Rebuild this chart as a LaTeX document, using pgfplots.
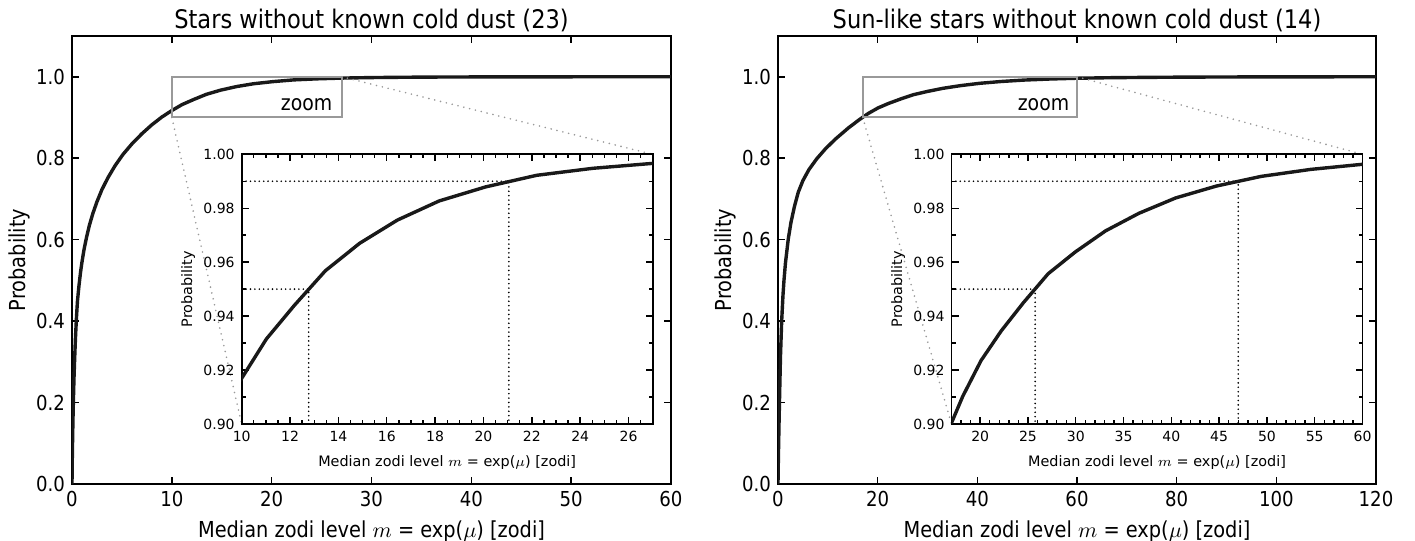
\documentclass[border=0pt]{standalone}
\usepackage{fontspec}
\setmainfont{DejaVu Sans}[FakeStretch=0.88]
\newfontfamily\insetfont{DejaVu Sans}
\usepackage{pgfplots}
\pgfplotsset{compat=1.18}
\usepackage{pgfplotstable}

\pgfplotstableread{
m P
0 0
0.01 0.025
0.025 0.055
0.05 0.095
0.09 0.15
0.14 0.205
0.2 0.26
0.27 0.31
0.35 0.36
0.45 0.41
0.55 0.45
0.7 0.487
0.85 0.519
1.0 0.545
1.2 0.575
1.45 0.605
1.75 0.636
2.1 0.665
2.5 0.693
3.0 0.723
3.6 0.752
4.3 0.781
5.1 0.809
6.0 0.835
7.0 0.860
8.0 0.882
9.0 0.901
9.97 0.9165
11.02 0.9315
12.18 0.9440
13.46 0.9568
14.88 0.9670
16.44 0.9756
18.17 0.9827
20.09 0.9879
22.20 0.9922
24.53 0.9948
27.11 0.9967
29.96 0.9979
33.12 0.9987
36.60 0.9992
40.45 0.9995
44.70 0.9997
49.40 0.9998
54.60 0.9999
60.34 1.0000
}\dataL

\pgfplotstableread{
m P
0 0
0.02 0.022
0.05 0.045
0.1 0.08
0.2 0.145
0.33 0.222
0.5 0.3145
0.74 0.4008
1.0 0.4636
1.2 0.50
1.5 0.5431
2.07 0.6023
2.6 0.642
3.3 0.6815
4.08 0.717
5.0 0.745
6.2 0.7718
7.76 0.7983
9.5 0.8227
11.5 0.8467
14.1 0.874
16.44 0.8957
18.17 0.9102
20.09 0.9235
22.20 0.9345
24.53 0.9450
27.11 0.9557
29.96 0.9638
33.12 0.9716
36.60 0.9781
40.45 0.9838
44.70 0.9882
49.40 0.9918
54.60 0.9944
60.34 0.9964
66.69 0.9976
73.70 0.9984
81.45 0.9990
90.02 0.9994
99.48 0.9996
109.95 0.9998
121.51 0.9999
}\dataR

\tikzset{
  refline/.style={black, line width=0.9pt, line cap=round, dash pattern=on 0pt off 2.2pt},
  conn/.style={black!40, line width=0.9pt, line cap=round, dash pattern=on 0pt off 3pt},
}

\pgfplotsset{
  mainax/.style={
    scale only axis, width=299.5pt, height=224pt,
    xmin=0, ymin=0, ymax=1.1,
    ytick={0,0.2,0.4,0.6,0.8,1.0},
    tick align=inside, major tick length=3.4pt,
    axis line style={line width=0.9pt},
    every tick/.style={black, line width=0.8pt},
    yticklabel style={/pgf/number format/.cd, fixed, fixed zerofill, precision=1},
    /pgf/number format/assume math mode=true,
    tick label style={font=\fontsize{10.3}{12}\selectfont},
    label style={font=\fontsize{11}{13}\selectfont},
    every axis title shift=0pt,
    title style={font=\fontsize{12.8}{15}\selectfont, at={(0.5,1)}, anchor=base, yshift=3.5pt},
    xlabel={Median zodi level $m$ = exp($\mu$) [zodi]},
    ylabel={Probability},
    ylabel style={at={(axis description cs:-0.0885,0.5)}, anchor=center},
    clip=true,
  },
  insetax/.style={
    scale only axis, width=205.5pt, height=134.85pt,
    ymin=0.9, ymax=1.0,
    ytick={0.90,0.92,0.94,0.96,0.98,1.00},
    minor ytick={0.91,0.93,0.95,0.97,0.99},
    tick align=inside, major tick length=3.5pt, minor tick length=2pt,
    axis line style={line width=0.8pt},
    every tick/.style={black, line width=0.7pt},
    axis background/.style={fill=white},
    yticklabel style={/pgf/number format/.cd, fixed, fixed zerofill, precision=2},
    /pgf/number format/assume math mode=true,
    tick label style={font=\insetfont\fontsize{7}{8.5}\selectfont},
    label style={font=\insetfont\fontsize{7.2}{8.5}\selectfont},
    xlabel={Median zodi level $m$ = exp($\mu$) [zodi]},
    ylabel={Probability},
    ylabel style={at={(axis description cs:-0.13,0.5)}, anchor=center},
    clip=true,
  },
}

\begin{document}
\begin{tikzpicture}
\useasboundingbox (0,0) rectangle (707.5pt,270.5pt);

% ---------- left panel ----------
\begin{axis}[mainax, at={(36pt,28.5pt)}, anchor=south west,
  xmax=60, xtick={0,10,20,30,40,50,60},
  title={Stars without known cold dust (23)}]
  \addplot[black!90, line width=1.7pt, line join=round] table[x=m,y=P] {\dataL};
  \draw[black!40, line width=1pt] (axis cs:10,0.9) rectangle (axis cs:27,1.0);
  \node[anchor=base east, inner sep=0pt, font=\fontsize{10.7}{12}\selectfont] at (axis cs:26.1,0.918) {zoom};
  \coordinate (LboxA) at (axis cs:10,0.9);
  \coordinate (LboxB) at (axis cs:27,1.0);
\end{axis}

% ---------- right panel ----------
\begin{axis}[mainax, at={(389pt,28.5pt)}, anchor=south west, width=299pt,
  xmax=120, xtick={0,20,40,60,80,100,120},
  title={Sun-like stars without known cold dust (14)}]
  \addplot[black!90, line width=1.7pt, line join=round] table[x=m,y=P] {\dataR};
  \draw[black!40, line width=1pt] (axis cs:17,0.9) rectangle (axis cs:60,1.0);
  \node[anchor=base east, inner sep=0pt, font=\fontsize{10.7}{12}\selectfont] at (axis cs:58.5,0.918) {zoom};
  \coordinate (RboxA) at (axis cs:17,0.9);
  \coordinate (RboxB) at (axis cs:60,1.0);
\end{axis}

% connectors to the inset corners
\draw[conn] (LboxA) -- (120.85pt,58.5pt);
\draw[conn] (LboxB) -- (326.35pt,193.35pt);
\draw[conn] (RboxA) -- (475.75pt,58.5pt);
\draw[conn] (RboxB) -- (681.25pt,193.35pt);

% ---------- left inset ----------
\begin{axis}[insetax, at={(120.85pt,58.5pt)}, anchor=south west,
  xmin=10, xmax=27, xtick={10,12,14,16,18,20,22,24,26},
  minor xtick={10.5,11,11.5,12.5,13,13.5,14.5,15,15.5,16.5,17,17.5,18.5,19,19.5,20.5,21,21.5,22.5,23,23.5,24.5,25,25.5,26.5}]
  \addplot[refline] coordinates {(10,0.95) (12.77,0.95) (12.77,0.90)};
  \addplot[refline] coordinates {(10,0.99) (21.05,0.99) (21.05,0.90)};
  \addplot[black!90, line width=1.7pt, line join=round] table[x=m,y=P] {\dataL};
\end{axis}

% ---------- right inset ----------
\begin{axis}[insetax, at={(475.75pt,58.5pt)}, anchor=south west,
  xmin=17, xmax=60, xtick={20,25,30,35,40,45,50,55,60},
  minor xtick={18,19,21,22,23,24,26,27,28,29,31,32,33,34,36,37,38,39,41,42,43,44,46,47,48,49,51,52,53,54,56,57,58,59}]
  \addplot[refline] coordinates {(17,0.95) (25.75,0.95) (25.75,0.90)};
  \addplot[refline] coordinates {(17,0.99) (47.0,0.99) (47.0,0.90)};
  \addplot[black!90, line width=1.7pt, line join=round] table[x=m,y=P] {\dataR};
\end{axis}
\end{tikzpicture}
\end{document}
